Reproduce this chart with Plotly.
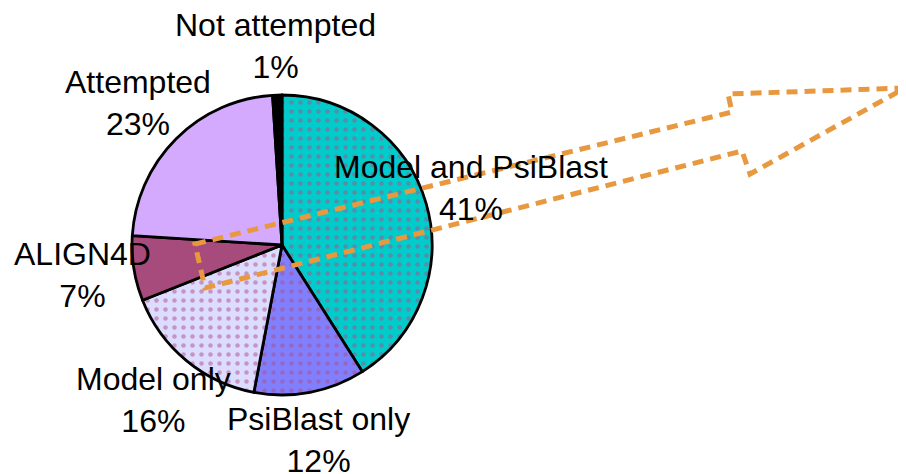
import plotly.graph_objects as go

labels = ["Model and PsiBlast", "PsiBlast only", "Model only", "ALIGN4D", "Attempted", "Not attempted"]
values = [41, 12, 16, 7, 23, 1]
pct_text = ["41%", "12%", "16%", "7%", "23%", "1%"]

# page body has an 8px margin; work in window pixels and convert
OFF = 8
W, H = 906 - OFF, 474 - OFF


def px2paper(x, y):
    return (x - OFF) / W, 1 - (y - OFF) / H


colors = ["#00CCCC", "#8080FF", "#DCDCFF", "#A64B7C", "#D4AAFF", "#000000"]
shapes_pat = [".", ".", ".", "", "", ""]

fig = go.Figure()
cx, cy, r = 282, 245, 150
x0, y1 = px2paper(cx - r, cy - r)
x1, y0 = px2paper(cx + r, cy + r)
fig.add_trace(go.Pie(
    labels=labels, values=values, sort=False, direction="clockwise", rotation=0,
    textinfo="none", hoverinfo="label+percent",
    marker=dict(colors=colors, line=dict(color="black", width=2.8),
                pattern=dict(shape=shapes_pat, fgcolor="#B04C84", size=9, solidity=0.2,
                             fillmode="overlay")),
    domain=dict(x=[x0, x1], y=[y0, y1]),
    showlegend=False,
))

label_pos = {
    "Model and PsiBlast": (471, 188),
    "PsiBlast only": (318, 440),
    "Model only": (153, 400),
    "ALIGN4D": (82, 275),
    "Attempted": (138, 103),
    "Not attempted": (275, 46),
}
for lab, pt in zip(labels, pct_text):
    ax, ay = px2paper(*label_pos[lab])
    fig.add_annotation(x=ax, y=ay, xref="paper", yref="paper",
                       text=f"{lab}<br>{pt}", showarrow=False,
                       xanchor="center", yanchor="middle", borderpad=0,
                       font=dict(family="Liberation Sans, Arial", size=32, color="black"))

# dashed block arrow
arrow_px = [(195, 244), (732, 112), (728, 94), (905, 88), (750, 174), (742, 151), (205, 288)]
path = "M " + " L ".join("{:.5f},{:.5f}".format(*px2paper(x, y)) for x, y in arrow_px) + " Z"
fig.add_shape(type="path", path=path, xref="paper", yref="paper",
              line=dict(color="#E8993F", width=5, dash="11px,7px"), fillcolor="rgba(0,0,0,0)")

fig.update_layout(width=W, height=H, margin=dict(l=0, r=0, t=0, b=0),
                  paper_bgcolor="white", plot_bgcolor="white")
fig.write_html("out.html")
